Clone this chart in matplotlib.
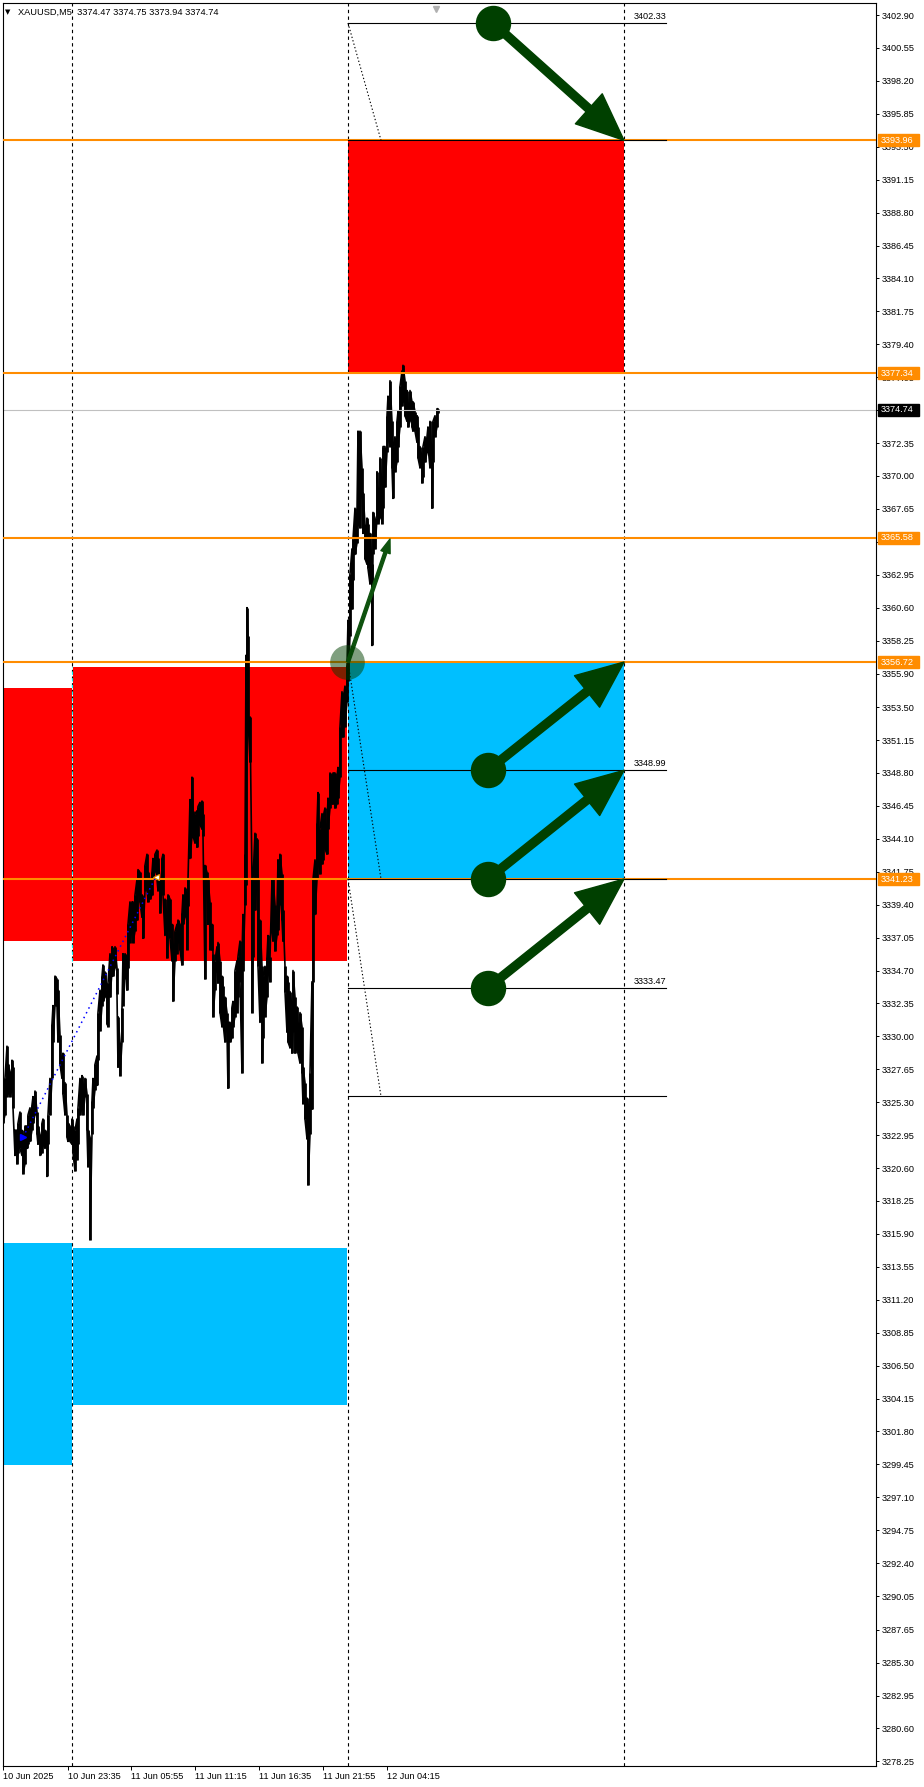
import numpy as np
import matplotlib
matplotlib.use('Agg')
import matplotlib.pyplot as plt
import matplotlib.transforms as mtransforms
from matplotlib.patches import Rectangle, FancyArrowPatch, ArrowStyle

plt.rcParams['font.family'] = ['Liberation Sans', 'DejaVu Sans']

# ---- data -----------------------------------------------------------------
# M5 bars, sampled: bar index (1 px per bar), high, low
bar_idx = [0, 2, 4, 5, 7, 9, 10, 12, 14, 15, 17, 19, 20, 22, 24, 25, 27, 29, 30, 32,
           34, 35, 37, 39, 40, 42, 44, 45, 47, 49, 50, 52, 54, 55, 57, 59, 60, 62, 64, 65,
           67, 69, 70, 72, 74, 75, 77, 79, 80, 82, 84, 85, 87, 89, 90, 92, 94, 95, 97, 99,
           100, 102, 104, 105, 107, 109, 110, 112, 114, 115, 117, 119, 120, 122, 124, 125, 127, 129, 130, 132,
           134, 135, 137, 139, 140, 142, 144, 145, 147, 149, 150, 152, 154, 155, 157, 159, 160, 162, 164, 165,
           167, 169, 170, 172, 174, 175, 177, 179, 180, 182, 184, 185, 187, 189, 190, 192, 194, 195, 197, 199,
           200, 202, 204, 205, 207, 209, 210, 212, 214, 215,
           217, 219, 220, 222, 224, 225, 227, 229, 230, 232, 234, 235, 237, 239, 240, 242, 243, 244, 245, 247,
           249, 250, 252, 254, 255, 257, 259, 260, 262, 264, 265, 267, 269, 270, 272, 274, 275, 277, 279, 280,
           282, 284, 285, 287, 289, 290, 292, 294, 295, 297, 299, 300, 302, 304, 305, 307, 309, 310, 312, 314,
           315, 317, 319, 320, 322, 324, 325, 327, 329, 330, 332, 334, 335, 337, 339, 340, 342, 344, 345, 347,
           349, 350, 352, 354, 355, 357, 359, 360, 362, 364, 365, 367, 369, 370, 372, 374, 375, 377, 379, 380,
           382, 384, 385, 387, 389, 390, 392, 394, 395, 397, 399, 400, 402, 404, 405, 407, 409, 410, 412, 414,
           415, 417, 419, 420, 422, 424, 425, 427, 429, 430, 432, 434, 435]
bar_high = [3326.2, 3327.0, 3329.3, 3328.0, 3327.5, 3328.3, 3327.8, 3323.3, 3323.3, 3323.8,
            3324.6, 3323.3, 3323.0, 3323.6, 3323.6, 3324.4, 3324.9, 3325.1, 3325.7, 3326.1,
            3324.6, 3323.6, 3323.0, 3323.8, 3324.1, 3323.3, 3323.0, 3324.4, 3327.0, 3330.9,
            3332.2, 3334.3, 3334.1, 3333.3, 3330.1, 3328.6, 3328.8, 3326.7, 3324.4, 3323.8,
            3323.6, 3324.1, 3323.6, 3323.3, 3324.1, 3324.9, 3327.0, 3327.2, 3326.7, 3327.0,
            3325.9, 3323.3, 3322.8, 3325.4, 3327.0, 3328.0, 3328.6, 3331.7, 3333.3, 3334.3,
            3335.1, 3334.6, 3333.3, 3333.8, 3335.9, 3336.4, 3336.2, 3336.4, 3334.9, 3331.4,
            3329.6, 3332.0, 3335.9, 3335.9, 3335.6, 3338.0, 3339.6, 3339.6, 3339.6, 3340.1,
            3341.2, 3341.9, 3341.7, 3340.1, 3339.6, 3342.2, 3343.0, 3341.7, 3341.2, 3341.7,
            3342.7, 3343.0, 3343.3, 3342.7, 3341.2, 3342.7, 3343.0, 3339.8, 3338.5, 3340.1,
            3339.8, 3338.0, 3336.7, 3337.5, 3338.0, 3338.3, 3338.0, 3338.8, 3340.1, 3340.6,
            3340.1, 3341.2, 3346.9, 3348.5, 3346.1, 3345.9, 3346.1, 3346.4, 3346.7, 3346.8,
            3345.9, 3342.2, 3341.7, 3341.2, 3339.6, 3338.0, 3335.9, 3335.4, 3336.4, 3336.7,
            3335.4, 3334.3, 3333.6, 3332.8, 3331.7, 3331.0, 3331.0, 3332.1, 3332.5, 3334.7,
            3335.4, 3335.7, 3336.8, 3335.7, 3338.7, 3343.0, 3357.2, 3360.6, 3358.6, 3352.8,
            3341.2, 3341.2, 3344.5, 3344.1, 3341.2, 3338.3, 3335.0, 3334.3, 3335.0, 3335.7,
            3337.2, 3335.7, 3341.2, 3341.2, 3339.4, 3339.0, 3342.6, 3343.0, 3341.6, 3339.0,
            3335.0, 3334.3, 3333.9, 3333.2, 3332.1, 3334.7, 3332.8, 3332.1, 3331.0, 3331.7,
            3330.7, 3327.8, 3326.7, 3325.6, 3325.2, 3327.4, 3333.9, 3341.2, 3342.6, 3345.2,
            3347.4, 3344.8, 3345.9, 3345.6, 3346.3, 3345.2, 3347.0, 3348.8, 3348.5, 3348.8,
            3348.8, 3348.5, 3349.2, 3352.1, 3354.6, 3353.9, 3355.0, 3356.5, 3359.7, 3363.0,
            3364.8, 3365.5, 3367.7, 3367.4, 3373.2, 3373.2, 3370.6, 3368.8, 3366.6, 3367.0,
            3366.6, 3365.9, 3363.7, 3367.4, 3367.0, 3370.3, 3369.2, 3371.3, 3369.2, 3372.1,
            3372.1, 3374.3, 3375.7, 3376.8, 3373.9, 3372.1, 3372.8, 3373.9, 3374.6, 3376.4,
            3377.5, 3377.9, 3376.8, 3376.1, 3375.3, 3376.1, 3375.3, 3375.3, 3374.6, 3374.3,
            3373.5, 3372.1, 3371.3, 3372.1, 3372.8, 3372.8, 3373.5, 3373.9, 3371.3, 3373.9,
            3374.3, 3374.8, 3374.8]
bar_low = [3323.8, 3324.4, 3325.7, 3325.9, 3325.7, 3326.2, 3324.9, 3321.5, 3320.9, 3321.7,
           3322.0, 3321.5, 3320.2, 3320.9, 3322.0, 3322.3, 3322.5, 3323.3, 3323.8, 3324.4,
           3323.0, 3322.3, 3321.5, 3321.7, 3322.3, 3322.0, 3320.0, 3322.3, 3324.4, 3327.0,
           3329.6, 3332.2, 3332.2, 3329.6, 3328.0, 3327.0, 3325.9, 3324.4, 3322.8, 3322.5,
           3322.5, 3322.3, 3321.7, 3320.4, 3321.2, 3322.3, 3324.4, 3324.9, 3324.4, 3325.7,
           3323.3, 3320.7, 3315.5, 3323.0, 3324.9, 3326.2, 3326.5, 3328.3, 3330.4, 3332.2,
           3332.5, 3332.8, 3330.9, 3330.7, 3332.8, 3334.6, 3334.3, 3334.9, 3333.0, 3327.8,
           3327.2, 3329.6, 3332.2, 3334.1, 3333.3, 3334.9, 3336.7, 3337.7, 3336.7, 3337.5,
           3338.3, 3340.1, 3339.6, 3338.5, 3337.0, 3340.4, 3340.6, 3339.6, 3339.8, 3340.1,
           3341.2, 3341.7, 3341.2, 3340.4, 3338.8, 3340.9, 3340.1, 3337.2, 3335.6, 3337.5,
           3337.0, 3335.4, 3332.5, 3335.4, 3335.9, 3336.7, 3336.2, 3335.1, 3338.0, 3338.5,
           3336.2, 3339.3, 3342.7, 3344.3, 3344.3, 3343.8, 3343.5, 3344.3, 3345.1, 3344.8,
           3344.3, 3334.1, 3340.1, 3338.0, 3336.2, 3336.2, 3331.4, 3333.3, 3334.6, 3333.8,
           3331.7, 3330.7, 3331.0, 3329.6, 3330.3, 3326.3, 3329.6, 3329.9, 3330.7, 3331.4,
           3331.7, 3332.8, 3333.9, 3327.4, 3334.7, 3339.4, 3340.8, 3352.1, 3352.8, 3349.6,
           3331.7, 3335.7, 3339.0, 3341.2, 3335.0, 3331.0, 3328.1, 3329.9, 3331.4, 3332.8,
           3334.7, 3333.9, 3337.6, 3336.8, 3336.1, 3337.2, 3337.6, 3339.4, 3338.3, 3336.8,
           3333.2, 3330.3, 3329.6, 3329.2, 3328.8, 3330.3, 3328.8, 3329.2, 3328.8, 3328.1,
           3327.4, 3325.2, 3324.1, 3322.7, 3319.4, 3323.0, 3324.8, 3333.9, 3338.7, 3341.2,
           3342.6, 3341.6, 3342.3, 3342.6, 3343.4, 3343.0, 3344.8, 3346.3, 3346.6, 3346.6,
           3346.3, 3346.6, 3347.0, 3348.5, 3351.4, 3351.4, 3352.1, 3353.9, 3355.4, 3358.6,
           3360.5, 3362.6, 3364.4, 3365.2, 3366.6, 3366.3, 3368.4, 3365.9, 3364.1, 3363.7,
           3363.4, 3362.3, 3357.9, 3364.4, 3364.8, 3367.0, 3366.6, 3367.0, 3366.6, 3367.7,
           3369.2, 3371.7, 3372.8, 3372.1, 3370.6, 3368.4, 3370.3, 3371.0, 3372.1, 3373.5,
           3375.0, 3375.3, 3374.3, 3373.9, 3373.5, 3373.9, 3373.5, 3373.2, 3373.2, 3372.4,
           3371.3, 3370.6, 3369.5, 3369.9, 3371.0, 3371.7, 3372.1, 3370.6, 3367.7, 3371.0,
           3372.8, 3373.5, 3374.5]

header = 'XAUUSD,M5  3374.47 3374.75 3373.94 3374.74'
bid_price = 3374.74

time_ticks = [0, 65, 128, 192, 256, 320, 384]
time_labels = ['10 Jun 2025', '10 Jun 23:35', '11 Jun 05:55', '11 Jun 11:15',
               '11 Jun 16:35', '11 Jun 21:55', '12 Jun 04:15']
price_ticks = [3402.90, 3400.55, 3398.20, 3395.85, 3393.50, 3391.15, 3388.80, 3386.45,
               3384.10, 3381.75, 3379.40, 3377.05, 3374.70, 3372.35, 3370.00, 3367.65,
               3365.30, 3362.95, 3360.60, 3358.25, 3355.90, 3353.50, 3351.15, 3348.80,
               3346.45, 3344.10, 3341.75, 3339.40, 3337.05, 3334.70, 3332.35, 3330.00,
               3327.65, 3325.30, 3322.95, 3320.60, 3318.25, 3315.90, 3313.55, 3311.20,
               3308.85, 3306.50, 3304.15, 3301.80, 3299.45, 3297.10, 3294.75, 3292.40,
               3290.05, 3287.65, 3285.30, 3282.95, 3280.60, 3278.25]

separators = [69, 345, 621]
orange_levels = [3393.96, 3377.34, 3365.58, 3356.72, 3341.23]

# zones: x0, x1, low, high, colour
zones = [(0, 68.7, 3336.8, 3354.9, 'red'),
         (69.7, 343.7, 3335.4, 3356.35, 'red'),
         (0, 68.7, 3299.4, 3315.25, '#00BFFF'),
         (69.7, 343.7, 3303.7, 3314.9, '#00BFFF'),
         (345, 621, 3377.34, 3393.96, 'red'),
         (345, 621, 3341.23, 3356.72, '#00BFFF')]

fibo_x = (345, 663)
fibo_levels = [3402.33, 3393.96, 3348.99, 3341.23, 3333.47, 3325.71]
fibo_labelled = [3402.33, 3348.99, 3333.47]
fibo_diag = [(345, 3402.33, 378, 3393.96),
             (345, 3356.72, 378, 3341.23),
             (345, 3341.23, 378, 3325.71)]

big_arrows = [(490, 3402.33, 621, 3393.96),
              (485, 3348.99, 621, 3356.72),
              (485, 3341.23, 621, 3348.99),
              (485, 3333.47, 621, 3341.23)]
small_arrow = (345, 3356.72, 387, 3365.5)

trade = (20, 3322.8, 153, 3341.4)

# ---- figure ---------------------------------------------------------------
W, H = 924, 1787
fig = plt.figure(figsize=(W / 100, H / 100), dpi=100)
ax = fig.add_axes([3 / W, 21 / H, 873 / W, 1763 / H])
ax.set_xlim(0, 873)
ax.set_ylim(3277.92, 3403.76)

for x0, x1, lo, hi, c in zones:
    ax.add_patch(Rectangle((x0, lo), x1 - x0, hi - lo, color=c, lw=0, zorder=1))

for s in separators:
    ax.axvline(s, color='black', lw=0.8, ls=(0, (3, 3)), zorder=1.5)
# separator over red zones shows up cyan
ax.plot([69, 69], [3335.4, 3356.35], color='#00FFFF', lw=0.8, ls=(0, (3, 3)), zorder=1.6)

# price bars
ax.vlines(bar_idx, bar_low, bar_high, color='black', lw=2.0, zorder=2)
zz_x, zz_y = [], []
for i, (b, h, l) in enumerate(zip(bar_idx, bar_high, bar_low)):
    zz_x += [b, b]
    zz_y += [h, l] if i % 2 == 0 else [l, h]
ax.plot(zz_x, zz_y, color='black', lw=1.2, zorder=2)

ax.axhline(bid_price, color='#C0C0C0', lw=0.8, zorder=2.5)
for lv in orange_levels:
    ax.axhline(lv, color='#FF8C00', lw=1.5, zorder=3)

for lv in fibo_levels:
    ax.plot(fibo_x, [lv, lv], color='black', lw=0.8, zorder=4)
for lv in fibo_labelled:
    ax.annotate(f'{lv:.2f}', (fibo_x[1], lv), xytext=(0, 1.5), textcoords='offset points',
                ha='right', va='bottom', fontsize=6.6, zorder=4)
for x0, y0, x1, y1 in fibo_diag:
    ax.plot([x0, x1], [y0, y1], color='black', lw=0.8, ls=(0, (1.2, 2)), zorder=4)

# trade history
ax.plot(trade[0::2], trade[1::2], color='blue', lw=1.1, ls=(0, (1, 2.5)), zorder=4)
ax.plot(trade[0], trade[1], marker='>', ms=5, color='blue', zorder=5)
ax.plot(trade[2], trade[3], marker='<', ms=5, mfc='white', mec='#E08A00', mew=0.8, zorder=5)

# arrows
green = '#004000'
big_style = ArrowStyle.Simple(head_length=34, head_width=29, tail_width=5.8)
for x0, y0, x1, y1 in big_arrows:
    ax.add_patch(FancyArrowPatch((x0, y0), (x1, y1), arrowstyle=big_style, mutation_scale=1,
                                 color=green, shrinkA=0, shrinkB=0, zorder=6))
    ax.plot(x0, y0, 'o', ms=24.5, color=green, zorder=6)

sx0, sy0, sx1, sy1 = small_arrow
ax.add_patch(FancyArrowPatch((sx0, sy0), (sx1, sy1),
                             arrowstyle=ArrowStyle.Simple(head_length=10, head_width=7, tail_width=2.2),
                             mutation_scale=1, color='#0E520E', shrinkA=0, shrinkB=0, zorder=6))
ax.plot(sx0 - 1, sy0, 'o', ms=25, color=green, alpha=0.5, mew=0, zorder=6)

# chart shift marker
ax.plot(433, 3403.3, marker='v', ms=5, color='#B0B0B0', clip_on=False, zorder=6)

# axes styling
for sp in ax.spines.values():
    sp.set_linewidth(0.8)
ax.yaxis.tick_right()
ax.set_yticks(price_ticks, [f'{v:.2f}' for v in price_ticks])
ax.set_xticks(time_ticks, time_labels)
for lbl in ax.get_xticklabels():
    lbl.set_horizontalalignment('left')
ax.tick_params(axis='y', length=2.2, width=0.7, pad=2.2, labelsize=6.6)
ax.tick_params(axis='x', length=3, width=0.7, pad=1.2, labelsize=6.6)

# price tags on the scale
tag_tr = mtransforms.blended_transform_factory(ax.transAxes, ax.transData)
tags = [(lv, '#FF8C00') for lv in orange_levels] + [(bid_price, 'black')]
for lv, c in tags:
    ax.add_patch(Rectangle((1.0023, lv - 0.43), 0.047, 0.86, transform=tag_tr, color=c,
                           clip_on=False, zorder=10))
    ax.text(1.0057, lv, f'{lv:.2f}', transform=tag_tr, color='white', ha='left', va='center',
            fontsize=6.6, clip_on=False, zorder=11)

fig.text(8 / W, 1 - 12 / H, '\u25BC', fontsize=5, ha='center', va='center', family='DejaVu Sans')
fig.text(18 / W, 1 - 12 / H, header, fontsize=6.7, ha='left', va='center')

fig.savefig('out.png', dpi=100)
